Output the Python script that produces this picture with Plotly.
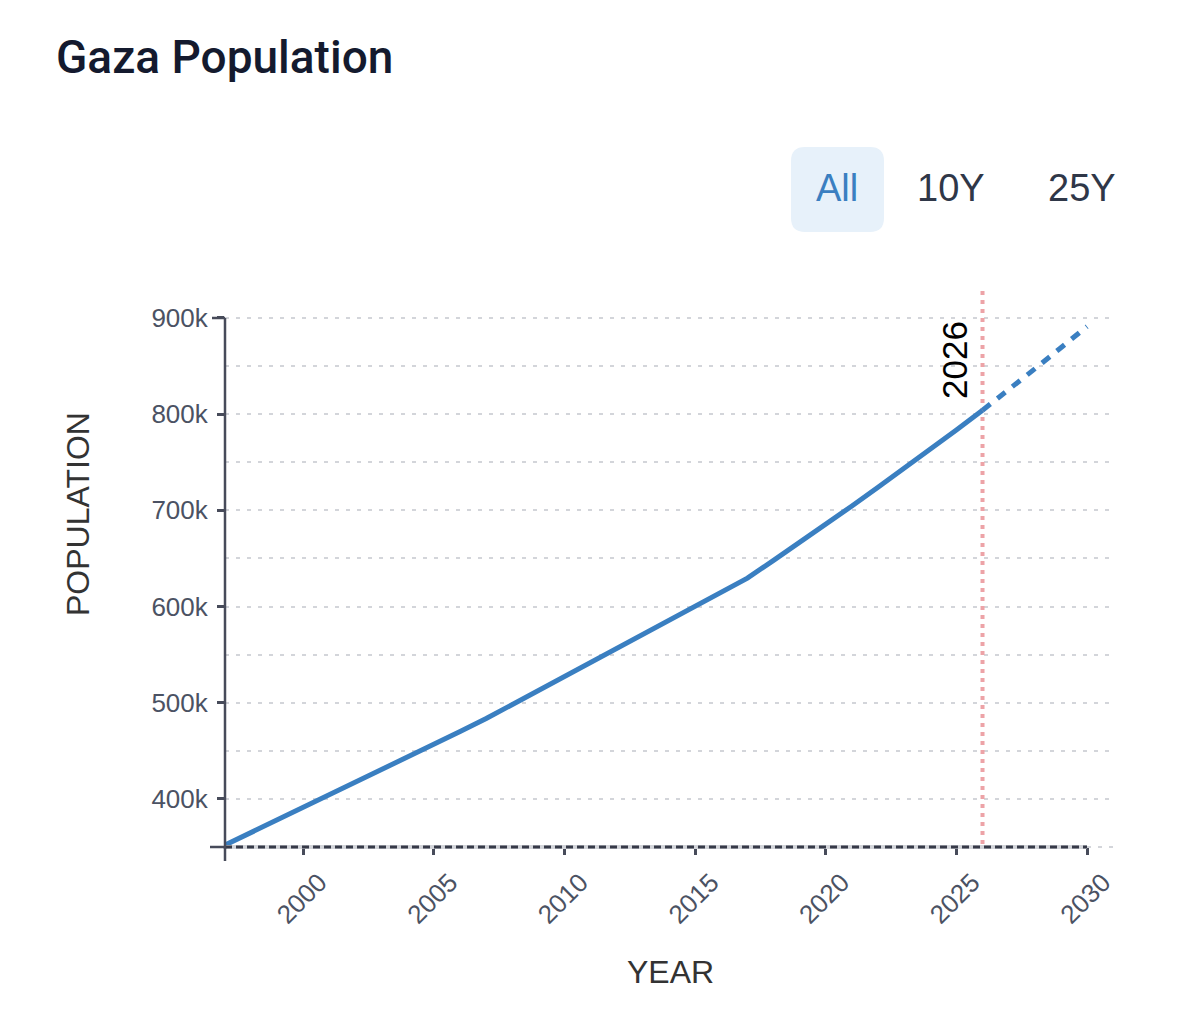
import plotly.graph_objects as go

# population estimates
years = list(range(1997, 2027))
population = [352000, 365000, 378000, 391000, 404000, 417000, 431000, 444000,
              457000, 470000, 483500, 498000, 512500, 527000, 541500, 556000,
              570500, 585000, 600000, 614500, 629500, 648000, 666500, 685500,
              704500, 724000, 743500, 763500, 783500, 804000]

# projection after the current year
proj_years = [2026, 2027, 2028, 2029, 2030]
proj_population = [804000, 825000, 847000, 869000, 891000]

y_ticks = [400000, 500000, 600000, 700000, 800000, 900000]
y_labels = ['400k', '500k', '600k', '700k', '800k', '900k']
x_ticks = [2000, 2005, 2010, 2015, 2020, 2025, 2030]
current_year = 2026
range_buttons = ['All', '10Y', '25Y']

# page / plot area in pixels
W, H = 1200, 1022
L, R, T, B = 225, 1115, 290, 847


def px(x):
    return (x - L) / (R - L)


def py(y):
    return (B - y) / (B - T)


def rounded_rect(x0, y0, x1, y1, r):
    pts = [('M', x0 + r, y0), ('L', x1 - r, y0), ('Q', x1, y0), (None, x1, y0 + r),
           ('L', x1, y1 - r), ('Q', x1, y1), (None, x1 - r, y1),
           ('L', x0 + r, y1), ('Q', x0, y1), (None, x0, y1 - r),
           ('L', x0, y0 + r), ('Q', x0, y0), (None, x0 + r, y0)]
    path = ''
    for cmd, x, y in pts:
        path += (cmd if cmd else ' ') + f'{px(x):.5f},{py(y):.5f} '
    return path + 'Z'


blue = '#3a7fc1'
axis_col = '#474b5a'
grid_col = '#d3d5da'
label_col = '#4b5263'
font_fam = 'Liberation Sans, Arial, sans-serif'

fig = go.Figure()

fig.add_trace(go.Scatter(x=years, y=population, mode='lines',
                         line=dict(color=blue, width=5),
                         name='Population', hoverinfo='x+y'))
fig.add_trace(go.Scatter(x=proj_years, y=proj_population, mode='lines',
                         line=dict(color=blue, width=5, dash='10px,9px'),
                         name='Projection', hoverinfo='x+y'))

x_min, x_max = years[0], x_ticks[-1]
x_end = x_max + (R - 1087) / ((1087 - L) / (x_max - x_min))
y_min, y_top = 350000, 350000 + (B - T) / (96.2 / 100000)

shapes = [
    # baseline: light band with dark dashes (paper y so it is not clipped)
    dict(type='line', xref='x', yref='paper', x0=x_min, x1=x_max, y0=0, y1=0,
         line=dict(color=grid_col, width=4), layer='above'),
    dict(type='line', xref='x', yref='paper', x0=x_max, x1=x_end, y0=0, y1=0,
         line=dict(color=grid_col, width=2, dash='4px,7px'), layer='above'),
    dict(type='line', xref='x', yref='paper', x0=x_min, x1=x_max, y0=0, y1=0,
         line=dict(color='#363a48', width=3, dash='7px,4px'), layer='above'),
    # y axis line
    dict(type='line', xref='paper', yref='paper', x0=0, x1=0, y0=py(849), y1=py(318),
         line=dict(color=axis_col, width=2.5), layer='above'),
    # outer ticks
    dict(type='line', xref='paper', yref='paper', x0=px(212), x1=px(225),
         y0=py(318), y1=py(318), line=dict(color=axis_col, width=2.5)),
    dict(type='line', xref='paper', yref='paper', x0=px(210), x1=px(225),
         y0=0, y1=0, line=dict(color=axis_col, width=2.5)),
    dict(type='line', xref='paper', yref='paper', x0=0, x1=0,
         y0=py(847), y1=py(861), line=dict(color=axis_col, width=2.5)),
    # current year marker
    dict(type='line', xref='x', yref='y', x0=current_year, x1=current_year,
         y0=y_min + 3000, y1=y_top, line=dict(color='#eda3a7', width=4, dash='4px,5px'),
         layer='between'),
    # active range button
    dict(type='path', xref='paper', yref='paper', path=rounded_rect(791, 147, 884, 232, 14),
         fillcolor='#e7f1fa', line=dict(width=0)),
]

annotations = [
    dict(text='Gaza Population', xref='paper', yref='paper', x=px(54), y=py(86),
         xanchor='left', yanchor='bottom', showarrow=False,
         font=dict(family='Roboto', size=46, weight=500, color='#141a2e')),
    dict(text=str(current_year), xref='x', yref='paper', x=current_year, y=py(401),
         xanchor='right', yanchor='bottom', xshift=-7, textangle=-90, showarrow=False,
         font=dict(family=font_fam, size=35, color='#000000')),
    dict(text='POPULATION', xref='paper', yref='paper', x=px(78), y=py(514),
         xanchor='center', yanchor='middle', textangle=-90, showarrow=False,
         font=dict(family=font_fam, size=32, color='#333333')),
    dict(text='YEAR', xref='paper', yref='paper', x=px(670), y=py(972),
         xanchor='center', yanchor='middle', showarrow=False,
         font=dict(family=font_fam, size=32, color='#333333')),
]

btn_x = [837, 951, 1082]
for i, label in enumerate(range_buttons):
    annotations.append(dict(text=label, xref='paper', yref='paper', x=px(btn_x[i]), y=py(188),
                            xanchor='center', yanchor='middle', showarrow=False,
                            font=dict(family=font_fam, size=38,
                                      color=blue if i == 0 else '#2f3748')))

fig.update_layout(
    width=W, height=H, autosize=False,
    margin=dict(l=L, r=W - R, t=T, b=H - B, pad=0),
    paper_bgcolor='white', plot_bgcolor='white',
    showlegend=False,
    shapes=shapes,
    annotations=annotations,
    xaxis=dict(range=[x_min, x_end], tickmode='array', tickvals=x_ticks,
               tickangle=-45, ticks='outside', ticklen=7, tickwidth=2.5, tickcolor=axis_col,
               ticklabelshift=16, ticklabelstandoff=2,
               showgrid=False, showline=False, zeroline=False,
               tickfont=dict(family=font_fam, size=26, color=label_col)),
    yaxis=dict(range=[y_min, y_top], tickmode='array', tickvals=y_ticks, ticktext=y_labels,
               ticks='outside', ticklen=7, tickwidth=2.5, tickcolor=axis_col,
               ticklabelstandoff=4,
               showgrid=True, gridcolor=grid_col, gridwidth=2, griddash='4px,7px',
               minor=dict(tickmode='linear', tick0=0, dtick=50000, showgrid=True,
                          gridcolor=grid_col, gridwidth=2, griddash='4px,7px', ticks=''),
               showline=False, zeroline=False,
               tickfont=dict(family=font_fam, size=26, color=label_col)),
    hovermode='x',
)

fig.write_html("out.html", config={'displayModeBar': False},
               post_script="document.body.style.margin='0';")
